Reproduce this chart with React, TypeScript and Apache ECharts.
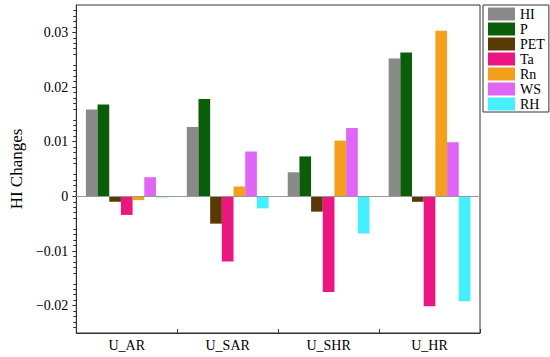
import React, { useEffect, useRef } from "react";
import * as echarts from "echarts";

const categories = ["U_AR", "U_SAR", "U_SHR", "U_HR"];
const seriesNames = ["HI", "P", "PET", "Ta", "Rn", "WS", "RH"];
const HI = [0.0159, 0.0127, 0.0044, 0.0252];
const P = [0.0168, 0.0178, 0.0073, 0.0263];
const PET = [-0.001, -0.005, -0.0028, -0.001];
const Ta = [-0.0034, -0.0119, -0.0175, -0.0201];
const Rn = [-0.0007, 0.0018, 0.0102, 0.0303];
const WS = [0.0035, 0.0082, 0.0125, 0.0099];
const RH = [-0.0002, -0.0022, -0.0068, -0.0192];
const seriesValues = [HI, P, PET, Ta, Rn, WS, RH];
const colors = ["#8a8a8a", "#0a5e0a", "#5a3a04", "#ec1680", "#f5a01c", "#e066f5", "#44f0ff"];
const yTickValues = [-0.02, -0.01, 0, 0.01, 0.02, 0.03];

const FONT = "Liberation Serif";

export default function App() {
  const ref = useRef<HTMLDivElement>(null);
  useEffect(() => {
    if (!ref.current) return;
    const chart = echarts.init(ref.current, null, { renderer: "svg" });
    const fmt = (v: number) => {
      if (Math.abs(v) < 1e-9) return "0";
      return v.toFixed(2).replace("-", "\u2212");
    };
    chart.setOption({
      animation: false,
      backgroundColor: "#ffffff",
      color: colors,
      grid: {
        left: 66,
        right: 70,
        top: 5,
        bottom: 24,
        show: true,
        borderColor: "#333",
        borderWidth: 1,
      },
      legend: {
        orient: "vertical",
        left: 483,
        top: 5,
        padding: [2, 4, 1, 5],
        itemWidth: 27,
        itemHeight: 13,
        itemGap: 1,
        borderColor: "#333",
        borderWidth: 1,
        icon: "rect",
        data: seriesNames,
        textStyle: { fontFamily: FONT, fontSize: 14, color: "#000" },
      },
      xAxis: [
        {
          type: "category",
          data: categories,
          position: "bottom",
          axisLine: { onZero: false, lineStyle: { color: "#333", width: 1 } },
          axisTick: { show: true, inside: true, length: 4, lineStyle: { color: "#333" } },
          axisLabel: { fontFamily: FONT, fontSize: 14, color: "#000", margin: 5 },
          splitLine: { show: false },
        },
      ],
      yAxis: {
        type: "value",
        min: -0.025,
        max: 0.035,
        interval: 0.005,
        name: "HI Changes",
        nameLocation: "middle",
        nameGap: 45,
        nameTextStyle: { fontFamily: FONT, fontSize: 17, color: "#000" },
        axisLine: { show: true, lineStyle: { color: "#333", width: 1 } },
        axisTick: { show: true, length: 4, customValues: yTickValues, lineStyle: { color: "#333" } },
        minorTick: { show: true, splitNumber: 5, length: 3, lineStyle: { color: "#333" } },
        axisLabel: {
          customValues: yTickValues,
          fontFamily: FONT,
          fontSize: 14,
          color: "#000",
          margin: 8,
          formatter: fmt,
        },
        splitLine: { show: false },
      },
      series: seriesNames.map((name, i) => ({
        name,
        type: "bar",
        data: seriesValues[i],
        barGap: "0%",
        barCategoryGap: "19%",
        itemStyle: { color: colors[i] },
        markLine:
          i === 0
            ? {
                silent: true,
                symbol: "none",
                label: { show: false },
                lineStyle: { color: "#999999", width: 1, type: "solid" },
                data: [{ yAxis: 0 }],
              }
            : undefined,
      })),
    });
    return () => chart.dispose();
  }, []);
  return (
    <div
      ref={ref}
      style={{ position: "fixed", left: 0, top: 0, width: 550, height: 357, background: "#fff" }}
    />
  );
}
